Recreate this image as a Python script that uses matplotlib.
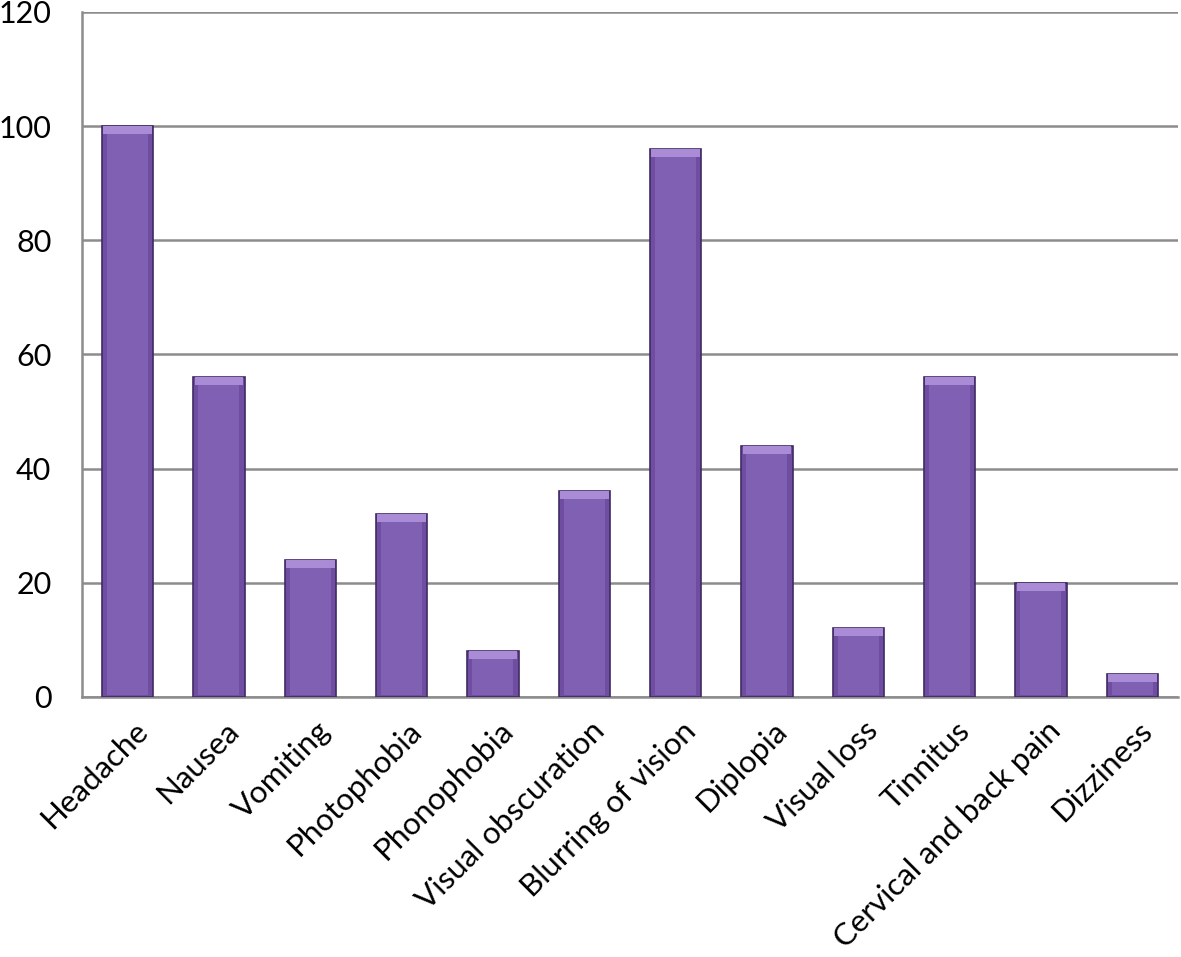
import numpy as np
import matplotlib.pyplot as plt

symptoms = ['Headache', 'Nausea', 'Vomiting', 'Photophobia', 'Phonophobia',
            'Visual obscuration', 'Blurring of vision', 'Diplopia', 'Visual loss',
            'Tinnitus', 'Cervical and back pain', 'Dizziness']
percent = [100, 56, 24, 32, 8, 36, 96, 44, 12, 56, 20, 4]
yticks = [0, 20, 40, 60, 80, 100, 120]

plt.rcParams['font.family'] = ['Lato', 'DejaVu Sans']

fig = plt.figure(figsize=(11.81, 9.57), dpi=100)
ax = fig.add_axes([0.0694, 0.2717, 0.928, 0.7158])

x = np.arange(len(symptoms))
w = 0.56
vals = np.array(percent, dtype=float)

# main bar body
ax.bar(x, vals, width=w, color='#6f4ea2', edgecolor='#3f2b63', linewidth=1.2, zorder=3)
# lighter inner face
ax.bar(x, vals - 1.6, width=w * 0.8, bottom=0.4, color='#8060b3', linewidth=0, zorder=4)
# bevel highlight on top
bev = np.minimum(1.4, vals * 0.4)
ax.bar(x, bev, width=w * 0.95, bottom=vals - bev, color='#a98bd6', linewidth=0, zorder=5)

ax.set_ylim(0, 120)
ax.set_xlim(-0.5, len(symptoms) - 0.5)
ax.set_yticks(yticks)
ax.set_yticklabels([str(t) for t in yticks], fontsize=22)
ax.set_xticks(x + 0.06)
ax.set_xticklabels(symptoms, fontsize=22.5, rotation=45, ha='right', rotation_mode='anchor')
ax.tick_params(axis='both', length=0)
ax.tick_params(axis='y', pad=22)
ax.tick_params(axis='x', pad=14)

ax.yaxis.grid(True, color='#8c8c8c', linewidth=1.8, zorder=0)
ax.set_axisbelow(True)
for s in ['top', 'right']:
    ax.spines[s].set_visible(False)
for s in ['left', 'bottom']:
    ax.spines[s].set_color('#8c8c8c')
    ax.spines[s].set_linewidth(1.8)

fig.savefig('out.png', dpi=100)
